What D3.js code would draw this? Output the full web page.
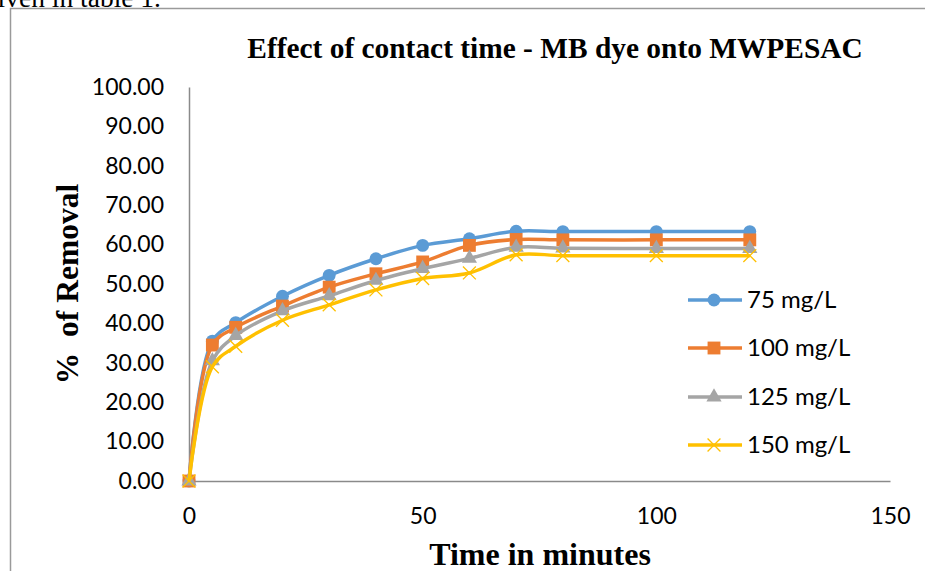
<!DOCTYPE html>
<html>
<head>
<meta charset="utf-8">
<script src="https://cdn.jsdelivr.net/npm/d3@7"></script>
<style>
  html, body { margin: 0; padding: 0; background: #fff; }
  svg { display: block; }
</style>
</head>
<body>
<div id="chart"></div>
<script>
// time points (minutes)
const times = [0, 5, 10, 20, 30, 40, 50, 60, 70, 80, 100, 120];

// % removal for each initial dye concentration
const removal75 = [0, 35.5, 40.2, 46.9, 52.2, 56.4, 59.8, 61.5, 63.4, 63.3, 63.3, 63.3];
const removal100 = [0, 34.5, 39.0, 44.4, 49.2, 52.6, 55.6, 59.8, 61.3, 61.2, 61.2, 61.2];
const removal125 = [0, 30.5, 36.9, 43.2, 47.0, 50.9, 53.9, 56.5, 59.3, 59.1, 59.0, 59.0];
const removal150 = [0, 29.0, 34.2, 40.8, 44.7, 48.5, 51.4, 52.8, 57.4, 57.2, 57.2, 57.2];

const seriesNames = ["75 mg/L", "100 mg/L", "125 mg/L", "150 mg/L"];
const yTicks = [0, 10, 20, 30, 40, 50, 60, 70, 80, 90, 100];
const xTicks = [0, 50, 100, 150];

const colors = ["#5B9BD5", "#ED7D31", "#A5A5A5", "#FFC000"];
const markers = [d3.symbolCircle, d3.symbolSquare, d3.symbolTriangle, d3.symbolX];
const markerSizes = [130, 165, 100, 110];

const width = 925, height = 571;

const series = [removal75, removal100, removal125, removal150].map((vals, i) => ({
    name: seriesNames[i],
    points: times.map((t, j) => ({ t: t, v: vals[j] }))
}));

const svg = d3.select("#chart").append("svg")
    .attr("width", width)
    .attr("height", height);

// bit of the page text above the chart box (cut off like in the source)
svg.append("text")
    .attr("x", 161)
    .attr("y", 7)
    .attr("text-anchor", "end")
    .style("font-family", "'Liberation Serif', 'Times New Roman', serif")
    .style("font-size", "27.5px")
    .text("given in table 1.");

// chart frame (clipped off at right and bottom)
svg.append("path")
    .attr("d", "M10.5," + height + "V8.5H" + width)
    .attr("fill", "none")
    .attr("stroke", "#9a9a9a")
    .attr("stroke-width", 1.5);

const x = d3.scaleLinear().domain([0, 150]).range([189, 890]);
const y = d3.scaleLinear().domain([0, 100]).range([481, 87]);

// axes
const yAxis = svg.append("g")
    .attr("transform", "translate(" + x(0) + ",0)")
    .call(d3.axisLeft(y).tickValues(yTicks).tickFormat(d3.format(".2f")).tickSize(0).tickPadding(25));

const xAxis = svg.append("g")
    .attr("transform", "translate(0," + y(0) + ")")
    .call(d3.axisBottom(x).tickValues(xTicks).tickSize(0).tickPadding(27));

[yAxis, xAxis].forEach(g => {
    g.select(".domain").attr("stroke", "#8a8a8a").attr("stroke-width", 1.5);
    g.selectAll("text")
        .attr("fill", "#000")
        .style("font-family", "Lato, 'Open Sans', sans-serif")
        .style("font-size", "23px");
});

// series lines and markers
const line = d3.line()
    .x(d => x(d.t))
    .y(d => y(d.v))
    .curve(d3.curveCatmullRom.alpha(0.5));

series.forEach((s, i) => {
    const g = svg.append("g");
    g.append("path")
        .datum(s.points)
        .attr("d", line)
        .attr("fill", "none")
        .attr("stroke", colors[i])
        .attr("stroke-width", 3.5)
        .attr("stroke-linejoin", "round");

    g.selectAll("path.mark")
        .data(s.points)
        .enter()
        .append("path")
        .attr("class", "mark")
        .attr("transform", d => "translate(" + x(d.t) + "," + y(d.v) + ")")
        .attr("d", d3.symbol().type(markers[i]).size(markerSizes[i]))
        .attr("fill", i == 3 ? "none" : colors[i])
        .attr("stroke", i == 3 ? colors[i] : "none")
        .attr("stroke-width", 1.3);
});

// title
svg.append("text")
    .attr("x", 555)
    .attr("y", 58)
    .attr("text-anchor", "middle")
    .style("font-family", "'Liberation Serif', 'Times New Roman', serif")
    .style("font-size", "29.4px")
    .style("font-weight", "bold")
    .text("Effect of contact time - MB dye onto MWPESAC");

// axis titles
svg.append("text")
    .attr("transform", "translate(78,284) rotate(-90)")
    .attr("text-anchor", "middle")
    .style("font-family", "'Liberation Serif', 'Times New Roman', serif")
    .style("font-size", "31.5px")
    .style("font-weight", "bold")
    .style("white-space", "pre")
    .text("%  of Removal");

svg.append("text")
    .attr("x", 540)
    .attr("y", 565)
    .attr("text-anchor", "middle")
    .style("font-family", "'Liberation Serif', 'Times New Roman', serif")
    .style("font-size", "32px")
    .style("font-weight", "bold")
    .text("Time in minutes");

// legend
const legendY = [300, 348, 397, 445];
series.forEach((s, i) => {
    const lg = svg.append("g").attr("transform", "translate(0," + legendY[i] + ")");
    lg.append("line")
        .attr("x1", 688).attr("x2", 742)
        .attr("stroke", colors[i])
        .attr("stroke-width", 3.5);
    lg.append("path")
        .attr("transform", "translate(714,0)")
        .attr("d", d3.symbol().type(markers[i]).size(markerSizes[i]))
        .attr("fill", i == 3 ? "none" : colors[i])
        .attr("stroke", i == 3 ? colors[i] : "none")
        .attr("stroke-width", 1.3);
    lg.append("text")
        .attr("x", 747)
        .attr("dy", "0.35em")
        .style("font-family", "Lato, 'Open Sans', sans-serif")
        .style("font-size", "24px")
        .text(s.name);
});
</script>
</body>
</html>
